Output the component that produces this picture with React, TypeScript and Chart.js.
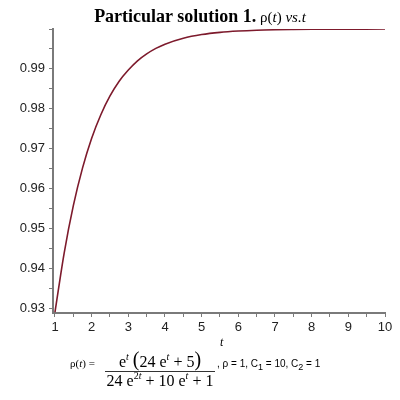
import React, { useEffect, useRef } from "react";
import { Chart, registerables } from "chart.js";

Chart.register(...registerables);

// Values (t, rho)
const T = [1, 1.25, 1.5, 1.75, 2, 2.25, 2.5, 2.75, 3, 3.25, 3.5, 3.75, 4, 4.5, 5, 5.5, 6, 6.5, 7, 7.5, 8, 9, 10];
const RHO = [0.929, 0.9438, 0.9557, 0.9651, 0.9726, 0.9785, 0.9832, 0.9869, 0.9897, 0.992, 0.99375, 0.99513, 0.9962, 0.99769, 0.9986, 0.99915, 0.99948, 0.99969, 0.99981, 0.99988, 0.99993, 0.99997, 0.99999];
const X_MIN = 0.9455;
const X_MAX = 10;
const Y_MIN = 0.92875;
const Y_MAX = 1.0;

const AXIS = "#7a7a7a";
const LINE = "#7d1a2c";
const TICK_FONT = { family: "'Liberation Sans', Arial, sans-serif", size: 13 };

export default function App() {
  const ref = useRef<HTMLCanvasElement | null>(null);

  useEffect(() => {
    document.body.style.margin = "0";
    const ctx = ref.current!;
    const chart = new Chart(ctx, {
      type: "line",
      data: {
        datasets: [
          {
            data: T.map((t, i) => ({ x: t, y: RHO[i] })),
            borderColor: LINE,
            borderWidth: 1.6,
            pointRadius: 0,
            cubicInterpolationMode: "monotone",
            fill: false,
          },
        ],
      },
      options: {
        animation: false,
        responsive: false,
        maintainAspectRatio: false,
        layout: { padding: { left: 0, right: 15, top: 29, bottom: 57 } },
        plugins: { legend: { display: false }, tooltip: { enabled: false }, title: { display: false } },
        scales: {
          x: {
            type: "linear",
            min: X_MIN,
            max: X_MAX,
            afterFit: (s: any) => {
              s.height = 30;
            },
            border: { color: AXIS, width: 2 },
            grid: { drawOnChartArea: false, tickLength: 4, color: AXIS, tickWidth: 1 },
            ticks: {
              stepSize: 0.5,
              autoSkip: false,
              maxRotation: 0,
              padding: 3,
              color: "#222",
              font: TICK_FONT,
              includeBounds: false,
              callback: (v: any) => (Math.abs(v - Math.round(v)) < 1e-6 ? String(Math.round(v)) : ""),
            },
          },
          y: {
            type: "linear",
            min: Y_MIN,
            max: Y_MAX,
            afterFit: (s: any) => {
              s.width = 53;
            },
            border: { color: AXIS, width: 2 },
            grid: { drawOnChartArea: false, tickLength: 4, color: AXIS, tickWidth: 1 },
            ticks: {
              stepSize: 0.005,
              autoSkip: false,
              padding: 4,
              color: "#222",
              font: TICK_FONT,
              includeBounds: false,
              callback: (v: any) => {
                const h = v * 100;
                if (v > 0.995) return "";
                return Math.abs(h - Math.round(h)) < 1e-6 ? (Math.round(h) / 100).toFixed(2) : "";
              },
            },
          },
        },
      },
    });
    return () => chart.destroy();
  }, []);

  const serif = "'Liberation Serif', 'Times New Roman', serif";
  const sup: React.CSSProperties = { fontSize: 10, verticalAlign: "7px", lineHeight: 0 };
  const paren: React.CSSProperties = { fontSize: 20, lineHeight: 0, verticalAlign: "1px" };

  return (
    <div style={{ position: "fixed", left: 0, top: 0, width: 400, height: 400, background: "#fff", overflow: "hidden" }}>
      <canvas ref={ref} width={400} height={400} style={{ position: "absolute", left: 0, top: 0, width: 400, height: 400 }} />
      <div
        style={{
          position: "absolute",
          left: 0,
          top: 6,
          width: 400,
          textAlign: "center",
          fontFamily: serif,
          lineHeight: "20px",
          whiteSpace: "nowrap",
          color: "#000",
        }}
      >
        <span style={{ fontWeight: "bold", fontSize: 18 }}>Particular solution 1.</span>
        <span style={{ fontSize: 15 }}>
          {" "}ρ(<i>t</i>) <i>vs.t</i>
        </span>
      </div>
      <div
        style={{
          position: "absolute",
          left: 220,
          top: 335,
          fontFamily: serif,
          fontStyle: "italic",
          fontSize: 12,
          lineHeight: "14px",
        }}
      >
        t
      </div>
      <div
        style={{
          position: "absolute",
          left: 70,
          top: 357,
          fontFamily: serif,
          fontSize: 11,
          lineHeight: "13px",
          whiteSpace: "nowrap",
        }}
      >
        ρ(<i>t</i>) =
      </div>
      <div
        style={{
          position: "absolute",
          left: 105,
          top: 353,
          width: 110,
          display: "flex",
          flexDirection: "column",
          alignItems: "center",
          fontFamily: serif,
          fontSize: 16,
          whiteSpace: "nowrap",
        }}
      >
        <div style={{ lineHeight: "18px", height: 18 }}>
          e<sup style={{ ...sup, fontStyle: "italic" }}>t</sup>{" "}
          <span style={paren}>(</span>24 e<sup style={{ ...sup, fontStyle: "italic" }}>t</sup> + 5
          <span style={paren}>)</span>
        </div>
        <div style={{ width: 110, height: 0, borderTop: "1px solid #333" }} />
        <div style={{ lineHeight: "18px", height: 18 }}>
          24 e<sup style={sup}>2<i>t</i></sup> + 10 e<sup style={{ ...sup, fontStyle: "italic" }}>t</sup> + 1
        </div>
      </div>
      <div
        style={{
          position: "absolute",
          left: 217,
          top: 358,
          fontFamily: "'Liberation Sans', Arial, sans-serif",
          fontSize: 10,
          lineHeight: "12px",
          whiteSpace: "nowrap",
        }}
      >
        , ρ = 1, C<sub style={{ fontSize: 9, verticalAlign: "-3px", lineHeight: 0 }}>1</sub> = 10, C
        <sub style={{ fontSize: 9, verticalAlign: "-3px", lineHeight: 0 }}>2</sub> = 1
      </div>
    </div>
  );
}
